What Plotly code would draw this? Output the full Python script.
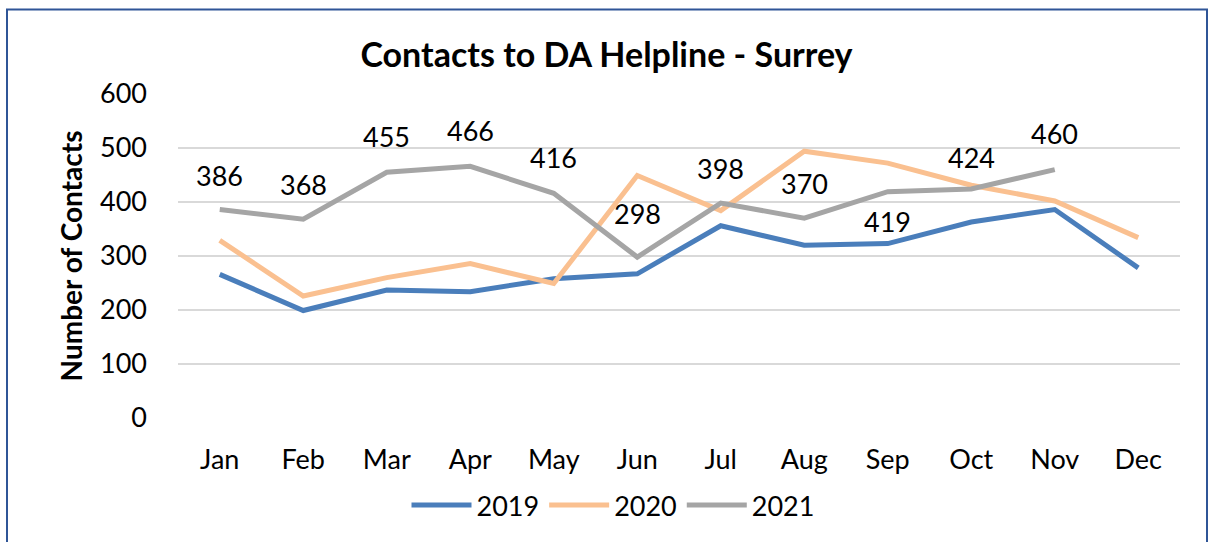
import plotly.graph_objects as go

months = ["Jan", "Feb", "Mar", "Apr", "May", "Jun", "Jul", "Aug", "Sep", "Oct", "Nov", "Dec"]
y2019 = [266, 199, 237, 234, 258, 267, 356, 320, 323, 363, 386, 278]
y2020 = [329, 226, 260, 286, 249, 449, 384, 494, 472, 431, 402, 334]
y2021 = [386, 368, 455, 466, 416, 298, 398, 370, 419, 424, 460]
label_shift = [34, 35, 36, 36, 36, 44, 35, 35, -30, 32, 36]

W, H = 1213, 542
ML, MR, MT, MB = 178, 33, 94, 124
PW, PH = W - ML - MR, H - MT - MB

FONT = "Lato, 'Open Sans', sans-serif"

fig = go.Figure()
fig.add_trace(go.Scatter(x=months, y=y2019, name="2019", mode="lines",
                         line=dict(color="#4A7EBB", width=5)))
fig.add_trace(go.Scatter(x=months, y=y2020, name="2020", mode="lines",
                         line=dict(color="#FAC090", width=5)))
fig.add_trace(go.Scatter(x=months[:len(y2021)], y=y2021, name="2021", mode="lines",
                         line=dict(color="#A5A5A5", width=5)))

for m, v, s in zip(months, y2021, label_shift):
    fig.add_annotation(x=m, y=v, text=str(v), showarrow=False, yshift=s,
                       font=dict(size=27, color="#000000", family=FONT))

def px_x(p):
    return (p - ML) / PW

def px_y(p):
    return (MT + PH - p) / PH

fig.add_shape(type="rect", xref="paper", yref="paper",
              x0=px_x(7), x1=px_x(1207), y0=px_y(560), y1=px_y(9.5),
              line=dict(color="#2F5597", width=2), fillcolor="rgba(0,0,0,0)", layer="above")

fig.update_layout(
    width=W, height=H,
    margin=dict(l=ML, r=MR, t=MT, b=MB, autoexpand=False),
    paper_bgcolor="white", plot_bgcolor="white",
    font=dict(family=FONT, size=27, color="#000000"),
    title=dict(text="<b>Contacts to DA Helpline - Surrey</b>", x=0.5, xanchor="center",
               y=1 - 55 / H, yanchor="middle", font=dict(size=34, family=FONT)),
    xaxis=dict(range=[-0.5, 11.5], showgrid=False, showline=False, zeroline=False, ticks="",
               ticklabelstandoff=23, tickfont=dict(size=27), automargin=False),
    yaxis=dict(range=[0, 600], dtick=100, showgrid=True, gridcolor="#D9D9D9", gridwidth=2,
               zeroline=False, showline=False, ticks="", ticklabelstandoff=30,
               tickfont=dict(size=27), automargin=False,
               title=dict(text="<b>Number of Contacts</b>", font=dict(size=28), standoff=9)),
    legend=dict(orientation="h", x=px_x(613), xanchor="center", y=px_y(481), yanchor="top",
                font=dict(size=27), itemwidth=60, traceorder="normal"),
    showlegend=True,
)

fig.write_html("out.html")
